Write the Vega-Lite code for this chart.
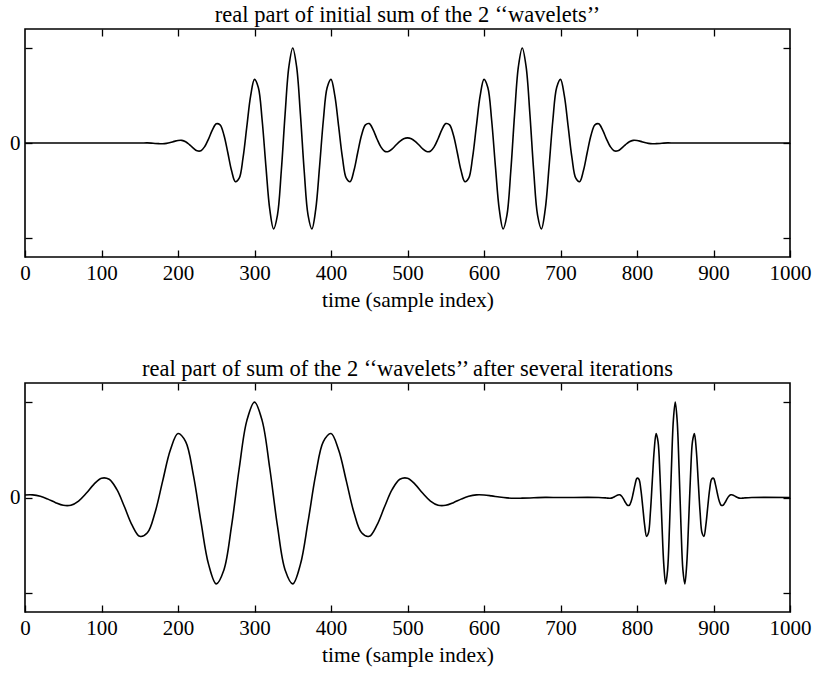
{
  "$schema": "https://vega.github.io/schema/vega-lite/v6.json",
  "background": "white",
  "padding": {"left": 8, "top": 3, "right": 5, "bottom": 5},
  "bounds": "flush",
  "spacing": 126,
  "config": {
    "font": "Liberation Serif",
    "view": {"stroke": "black", "strokeWidth": 1.6},
    "axis": {
      "domain": false, "grid": false,
      "tickColor": "black", "tickSize": -7, "tickWidth": 1.3,
      "labelFont": "Liberation Serif", "labelFontSize": 21, "labelColor": "black", "labelPadding": 12,
      "titleFont": "Liberation Serif", "titleFontSize": 21.5, "titleFontWeight": "normal", "titleColor": "black", "titlePadding": 6
    },
    "title": {"font": "Liberation Serif", "fontSize": 22.5, "fontWeight": "normal", "color": "black", "offset": 2, "anchor": "middle"}
  },
  "datasets": {
    "top": [
      {"t":0,"v":0},{"t":50,"v":0},{"t":100,"v":0},{"t":150,"v":0},
      {"t":160,"v":0.001},{"t":165,"v":-0.001},{"t":170,"v":-0.005},{"t":175,"v":-0.007},{"t":180,"v":-0.008},{"t":185,"v":-0.004},{"t":190,"v":0.005},{"t":195,"v":0.017},
      {"t":200,"v":0.027},{"t":205,"v":0.028},{"t":210,"v":0.013},{"t":215,"v":-0.017},{"t":220,"v":-0.054},{"t":225,"v":-0.082},{"t":230,"v":-0.081},{"t":235,"v":-0.037},{"t":240,"v":0.044},{"t":245,"v":0.138},
      {"t":250,"v":0.202},{"t":255,"v":0.191},{"t":260,"v":0.085},{"t":265,"v":-0.097},{"t":270,"v":-0.29},{"t":275,"v":-0.407},{"t":280,"v":-0.37},{"t":285,"v":-0.157},{"t":290,"v":0.174},{"t":295,"v":0.498},
      {"t":300,"v":0.67},{"t":305,"v":0.585},{"t":310,"v":0.239},{"t":315,"v":-0.254},{"t":320,"v":-0.701},{"t":325,"v":-0.905},{"t":330,"v":-0.759},{"t":335,"v":-0.298},{"t":340,"v":0.304},{"t":345,"v":0.806},
      {"t":350,"v":1},{"t":355,"v":0.806},{"t":360,"v":0.304},{"t":365,"v":-0.298},{"t":370,"v":-0.759},{"t":375,"v":-0.905},{"t":380,"v":-0.701},{"t":385,"v":-0.254},{"t":390,"v":0.239},{"t":395,"v":0.585},
      {"t":400,"v":0.67},{"t":405,"v":0.498},{"t":410,"v":0.174},{"t":415,"v":-0.157},{"t":420,"v":-0.37},{"t":425,"v":-0.407},{"t":430,"v":-0.29},{"t":435,"v":-0.097},{"t":440,"v":0.085},{"t":445,"v":0.191},
      {"t":450,"v":0.204},{"t":455,"v":0.14},{"t":460,"v":0.045},{"t":465,"v":-0.038},{"t":470,"v":-0.086},{"t":475,"v":-0.089},{"t":480,"v":-0.062},{"t":485,"v":-0.021},{"t":490,"v":0.018},{"t":495,"v":0.045},
      {"t":500,"v":0.054},{"t":505,"v":0.045},{"t":510,"v":0.018},{"t":515,"v":-0.021},{"t":520,"v":-0.062},{"t":525,"v":-0.089},{"t":530,"v":-0.086},{"t":535,"v":-0.038},{"t":540,"v":0.045},{"t":545,"v":0.14},
      {"t":550,"v":0.204},{"t":555,"v":0.191},{"t":560,"v":0.085},{"t":565,"v":-0.097},{"t":570,"v":-0.29},{"t":575,"v":-0.407},{"t":580,"v":-0.37},{"t":585,"v":-0.157},{"t":590,"v":0.174},{"t":595,"v":0.498},
      {"t":600,"v":0.67},{"t":605,"v":0.585},{"t":610,"v":0.239},{"t":615,"v":-0.254},{"t":620,"v":-0.701},{"t":625,"v":-0.905},{"t":630,"v":-0.759},{"t":635,"v":-0.298},{"t":640,"v":0.304},{"t":645,"v":0.806},
      {"t":650,"v":1},{"t":655,"v":0.806},{"t":660,"v":0.304},{"t":665,"v":-0.298},{"t":670,"v":-0.759},{"t":675,"v":-0.905},{"t":680,"v":-0.701},{"t":685,"v":-0.254},{"t":690,"v":0.239},{"t":695,"v":0.585},
      {"t":700,"v":0.67},{"t":705,"v":0.498},{"t":710,"v":0.174},{"t":715,"v":-0.157},{"t":720,"v":-0.37},{"t":725,"v":-0.407},{"t":730,"v":-0.29},{"t":735,"v":-0.097},{"t":740,"v":0.085},{"t":745,"v":0.191},
      {"t":750,"v":0.202},{"t":755,"v":0.138},{"t":760,"v":0.044},{"t":765,"v":-0.037},{"t":770,"v":-0.081},{"t":775,"v":-0.082},{"t":780,"v":-0.054},{"t":785,"v":-0.017},{"t":790,"v":0.013},{"t":795,"v":0.028},
      {"t":800,"v":0.027},{"t":805,"v":0.017},{"t":810,"v":0.005},{"t":815,"v":-0.004},{"t":820,"v":-0.008},{"t":825,"v":-0.007},{"t":830,"v":-0.005},{"t":835,"v":-0.001},{"t":840,"v":0.001},
      {"t":850,"v":0},{"t":900,"v":0},{"t":950,"v":0},{"t":1000,"v":0}
    ],
    "bottom": [
      {"t":0,"v":0.027},{"t":10,"v":0.028},{"t":20,"v":0.013},{"t":30,"v":-0.017},{"t":40,"v":-0.054},{"t":50,"v":-0.082},{"t":60,"v":-0.081},{"t":70,"v":-0.037},{"t":80,"v":0.044},{"t":90,"v":0.138},
      {"t":100,"v":0.202},{"t":110,"v":0.191},{"t":120,"v":0.085},{"t":130,"v":-0.097},{"t":140,"v":-0.29},{"t":150,"v":-0.407},{"t":160,"v":-0.37},{"t":170,"v":-0.157},{"t":180,"v":0.174},{"t":190,"v":0.498},
      {"t":200,"v":0.67},{"t":210,"v":0.585},{"t":220,"v":0.239},{"t":230,"v":-0.254},{"t":240,"v":-0.701},{"t":250,"v":-0.905},{"t":260,"v":-0.759},{"t":270,"v":-0.298},{"t":280,"v":0.304},{"t":290,"v":0.806},
      {"t":300,"v":1},{"t":310,"v":0.806},{"t":320,"v":0.304},{"t":330,"v":-0.298},{"t":340,"v":-0.759},{"t":350,"v":-0.905},{"t":360,"v":-0.701},{"t":370,"v":-0.254},{"t":380,"v":0.239},{"t":390,"v":0.585},
      {"t":400,"v":0.67},{"t":410,"v":0.498},{"t":420,"v":0.174},{"t":430,"v":-0.157},{"t":440,"v":-0.37},{"t":450,"v":-0.407},{"t":460,"v":-0.29},{"t":470,"v":-0.097},{"t":480,"v":0.085},{"t":490,"v":0.191},
      {"t":500,"v":0.202},{"t":510,"v":0.138},{"t":520,"v":0.044},{"t":530,"v":-0.037},{"t":540,"v":-0.081},{"t":550,"v":-0.082},{"t":560,"v":-0.054},{"t":570,"v":-0.017},{"t":580,"v":0.013},{"t":590,"v":0.028},
      {"t":600,"v":0.027},{"t":610,"v":0.017},{"t":620,"v":0.005},{"t":630,"v":-0.004},{"t":640,"v":-0.008},{"t":650,"v":-0.007},{"t":660,"v":-0.005},{"t":670,"v":-0.001},{"t":680,"v":0.001},
      {"t":700,"v":0},{"t":750,"v":0},
      {"t":760,"v":-0.005},{"t":762.5,"v":-0.007},{"t":765,"v":-0.008},{"t":767.5,"v":-0.004},{"t":770,"v":0.005},{"t":772.5,"v":0.017},{"t":775,"v":0.027},{"t":777.5,"v":0.028},{"t":780,"v":0.013},{"t":782.5,"v":-0.017},
      {"t":785,"v":-0.054},{"t":787.5,"v":-0.082},{"t":790,"v":-0.081},{"t":792.5,"v":-0.037},{"t":795,"v":0.044},{"t":797.5,"v":0.138},{"t":800,"v":0.202},{"t":802.5,"v":0.191},{"t":805,"v":0.085},{"t":807.5,"v":-0.097},
      {"t":810,"v":-0.29},{"t":812.5,"v":-0.407},{"t":815,"v":-0.37},{"t":817.5,"v":-0.157},{"t":820,"v":0.174},{"t":822.5,"v":0.498},{"t":825,"v":0.67},{"t":827.5,"v":0.585},{"t":830,"v":0.239},{"t":832.5,"v":-0.254},
      {"t":835,"v":-0.701},{"t":837.5,"v":-0.905},{"t":840,"v":-0.759},{"t":842.5,"v":-0.298},{"t":845,"v":0.304},{"t":847.5,"v":0.806},{"t":850,"v":1},{"t":852.5,"v":0.806},{"t":855,"v":0.304},{"t":857.5,"v":-0.298},
      {"t":860,"v":-0.759},{"t":862.5,"v":-0.905},{"t":865,"v":-0.701},{"t":867.5,"v":-0.254},{"t":870,"v":0.239},{"t":872.5,"v":0.585},{"t":875,"v":0.67},{"t":877.5,"v":0.498},{"t":880,"v":0.174},{"t":882.5,"v":-0.157},
      {"t":885,"v":-0.37},{"t":887.5,"v":-0.407},{"t":890,"v":-0.29},{"t":892.5,"v":-0.097},{"t":895,"v":0.085},{"t":897.5,"v":0.191},{"t":900,"v":0.202},{"t":902.5,"v":0.138},{"t":905,"v":0.044},{"t":907.5,"v":-0.037},
      {"t":910,"v":-0.081},{"t":912.5,"v":-0.082},{"t":915,"v":-0.054},{"t":917.5,"v":-0.017},{"t":920,"v":0.013},{"t":922.5,"v":0.028},{"t":925,"v":0.027},{"t":927.5,"v":0.017},{"t":930,"v":0.005},{"t":932.5,"v":-0.004},
      {"t":935,"v":-0.008},{"t":937.5,"v":-0.007},{"t":940,"v":-0.005},{"t":950,"v":0},{"t":1000,"v":0}
    ]
  },
  "vconcat": [
    {
      "title": "real part of initial sum of the 2 ‘‘wavelets’’",
      "width": 765, "height": 228,
      "data": {"name": "top"},
      "layer": [
        {
          "mark": {"type": "line", "color": "black", "strokeWidth": 1.6, "interpolate": "catmull-rom"},
          "encoding": {
            "x": {"field": "t", "type": "quantitative", "scale": {"domain": [0, 1000], "nice": false},
                  "axis": {"orient": "bottom", "values": [0,100,200,300,400,500,600,700,800,900,1000], "format": "d", "title": "time (sample index)", "labelFlush": false}},
            "y": {"field": "v", "type": "quantitative", "scale": {"domain": [-1.2, 1.2], "nice": false},
                  "axis": {"orient": "left", "values": [-1, 0, 1], "labelExpr": "datum.value == 0 ? '0' : ''", "title": null}}
          }
        },
        {
          "mark": {"type": "line", "opacity": 0},
          "encoding": {
            "x": {"field": "t", "type": "quantitative", "scale": {"domain": [0, 1000], "nice": false},
                  "axis": {"orient": "top", "values": [100,200,300,400,500,600,700,800,900], "labels": false, "title": null}},
            "y": {"field": "v", "type": "quantitative", "scale": {"domain": [-1.2, 1.2], "nice": false},
                  "axis": {"orient": "right", "values": [-1, 0, 1], "labels": false, "title": null}}
          }
        }
      ],
      "resolve": {"axis": {"x": "independent", "y": "independent"}}
    },
    {
      "title": "real part of sum of the 2 ‘‘wavelets’’ after several iterations",
      "width": 765, "height": 229,
      "data": {"name": "bottom"},
      "layer": [
        {
          "mark": {"type": "line", "color": "black", "strokeWidth": 1.6, "interpolate": "catmull-rom"},
          "encoding": {
            "x": {"field": "t", "type": "quantitative", "scale": {"domain": [0, 1000], "nice": false},
                  "axis": {"orient": "bottom", "values": [0,100,200,300,400,500,600,700,800,900,1000], "format": "d", "title": "time (sample index)", "labelFlush": false}},
            "y": {"field": "v", "type": "quantitative", "scale": {"domain": [-1.2, 1.2], "nice": false},
                  "axis": {"orient": "left", "values": [-1, 0, 1], "labelExpr": "datum.value == 0 ? '0' : ''", "title": null}}
          }
        },
        {
          "mark": {"type": "line", "opacity": 0},
          "encoding": {
            "x": {"field": "t", "type": "quantitative", "scale": {"domain": [0, 1000], "nice": false},
                  "axis": {"orient": "top", "values": [100,200,300,400,500,600,700,800,900], "labels": false, "title": null}},
            "y": {"field": "v", "type": "quantitative", "scale": {"domain": [-1.2, 1.2], "nice": false},
                  "axis": {"orient": "right", "values": [-1, 0, 1], "labels": false, "title": null}}
          }
        }
      ],
      "resolve": {"axis": {"x": "independent", "y": "independent"}}
    }
  ]
}
